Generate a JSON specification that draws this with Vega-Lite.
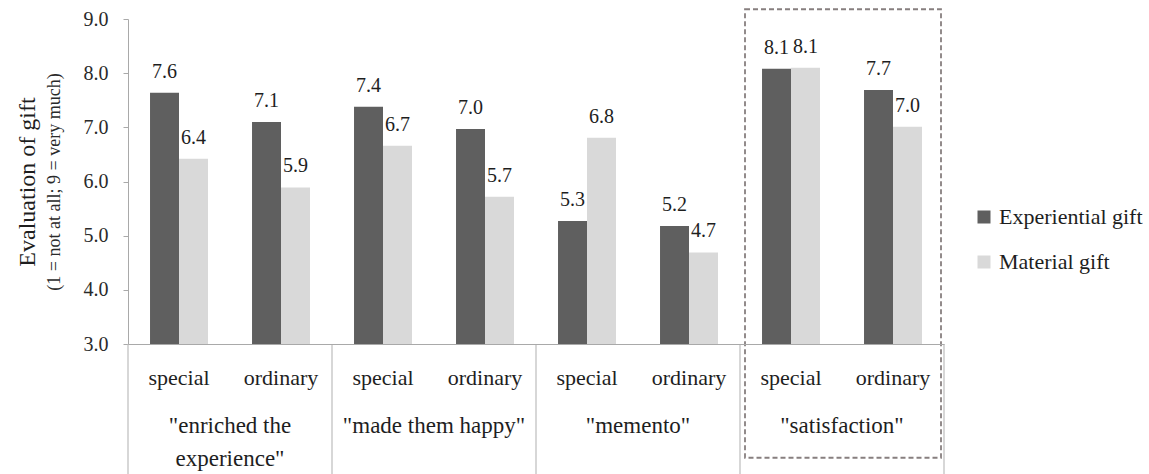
{
  "$schema": "https://vega.github.io/schema/vega-lite/v6.json",
  "width": 816,
  "height": 325,
  "autosize": {"type": "none"},
  "padding": {"left": 128, "top": 19, "right": 205, "bottom": 130},
  "background": "white",
  "config": {
    "font": "Liberation Serif",
    "view": {"stroke": null},
    "text": {"font": "Liberation Serif"},
    "axis": {"grid": false, "labelFont": "Liberation Serif", "titleFont": "Liberation Serif", "titleFontWeight": "normal"},
    "legend": {"labelFont": "Liberation Serif"}
  },
  "datasets": {
    "bars": [
      {"group": "enriched", "sub": "special", "key": "enriched|special", "gift": "Experiential gift", "value": 7.64},
      {"group": "enriched", "sub": "special", "key": "enriched|special", "gift": "Material gift", "value": 6.42},
      {"group": "enriched", "sub": "ordinary", "key": "enriched|ordinary", "gift": "Experiential gift", "value": 7.10},
      {"group": "enriched", "sub": "ordinary", "key": "enriched|ordinary", "gift": "Material gift", "value": 5.89},
      {"group": "happy", "sub": "special", "key": "happy|special", "gift": "Experiential gift", "value": 7.38},
      {"group": "happy", "sub": "special", "key": "happy|special", "gift": "Material gift", "value": 6.66},
      {"group": "happy", "sub": "ordinary", "key": "happy|ordinary", "gift": "Experiential gift", "value": 6.97},
      {"group": "happy", "sub": "ordinary", "key": "happy|ordinary", "gift": "Material gift", "value": 5.72},
      {"group": "memento", "sub": "special", "key": "memento|special", "gift": "Experiential gift", "value": 5.27},
      {"group": "memento", "sub": "special", "key": "memento|special", "gift": "Material gift", "value": 6.81},
      {"group": "memento", "sub": "ordinary", "key": "memento|ordinary", "gift": "Experiential gift", "value": 5.18},
      {"group": "memento", "sub": "ordinary", "key": "memento|ordinary", "gift": "Material gift", "value": 4.69},
      {"group": "satisfaction", "sub": "special", "key": "satisfaction|special", "gift": "Experiential gift", "value": 8.08},
      {"group": "satisfaction", "sub": "special", "key": "satisfaction|special", "gift": "Material gift", "value": 8.10},
      {"group": "satisfaction", "sub": "ordinary", "key": "satisfaction|ordinary", "gift": "Experiential gift", "value": 7.69},
      {"group": "satisfaction", "sub": "ordinary", "key": "satisfaction|ordinary", "gift": "Material gift", "value": 7.01}
    ],
    "groups": [
      {"skey": "enriched|special", "okey": "enriched|ordinary", "label": "\"enriched the\nexperience\""},
      {"skey": "happy|special", "okey": "happy|ordinary", "label": "\"made them happy\""},
      {"skey": "memento|special", "okey": "memento|ordinary", "label": "\"memento\""},
      {"skey": "satisfaction|special", "okey": "satisfaction|ordinary", "label": "\"satisfaction\""}
    ]
  },
  "layer": [
    {
      "data": {"name": "bars"},
      "mark": {"type": "bar"},
      "encoding": {
        "x": {
          "field": "key", "type": "nominal",
          "scale": {"domain": ["enriched|special", "enriched|ordinary", "happy|special", "happy|ordinary", "memento|special", "memento|ordinary", "satisfaction|special", "satisfaction|ordinary"], "paddingInner": 0, "paddingOuter": 0},
          "axis": {"title": null, "labelExpr": "split(datum.value, '|')[1]", "labelAngle": 0, "labelFontSize": 22, "labelFont": "Liberation Serif", "labelColor": "#1e1e1e", "labelBaseline": "alphabetic", "labelPadding": 40, "ticks": false, "domainColor": "#a9a9a9", "domainWidth": 1, "zindex": 1}
        },
        "xOffset": {"field": "gift", "type": "nominal", "sort": ["Experiential gift", "Material gift"], "scale": {"paddingOuter": 0.76, "paddingInner": 0}},
        "y": {
          "field": "value", "type": "quantitative",
          "scale": {"domain": [3, 9], "nice": false, "zero": false},
          "axis": {"orient": "left", "values": [3, 4, 5, 6, 7, 8, 9], "format": ".1f", "labelFontSize": 20, "labelFont": "Liberation Serif", "labelColor": "#2a2a2a", "labelPadding": 15, "tickSize": 5, "tickColor": "#a9a9a9", "domainColor": "#a9a9a9", "title": "(1 = not at all; 9 = very much)", "titleFontSize": 18, "titleColor": "#2a2a2a", "titlePadding": 20}
        },
        "y2": {"datum": 3},
        "color": {
          "field": "gift", "type": "nominal",
          "scale": {"domain": ["Experiential gift", "Material gift"], "range": ["#5f5f5f", "#d9d9d9"]},
          "legend": {"title": null, "orient": "none", "legendX": 845, "legendY": 187, "symbolType": "square", "symbolSize": 169, "symbolStrokeWidth": 0, "labelFontSize": 22, "labelFont": "Liberation Serif", "labelColor": "#1e1e1e", "labelOffset": 4, "rowPadding": 23, "padding": 0}
        }
      }
    },
    {
      "data": {"name": "bars"},
      "mark": {"type": "text", "font": "Liberation Serif", "baseline": "alphabetic", "align": "center", "dy": -15, "fontSize": 20, "color": "#1e1e1e"},
      "encoding": {
        "x": {"field": "key", "type": "nominal"},
        "xOffset": {"field": "gift", "type": "nominal", "sort": ["Experiential gift", "Material gift"]},
        "y": {"field": "value", "type": "quantitative", "scale": {"domain": [3, 9], "nice": false, "zero": false}, "axis": null},
        "text": {"field": "value", "type": "quantitative", "format": ".1f"}
      }
    },
    {
      "data": {"name": "groups"},
      "mark": {"type": "text", "font": "Liberation Serif", "baseline": "alphabetic", "align": "center", "fontSize": 23, "lineBreak": "\n", "lineHeight": 33, "color": "#1e1e1e"},
      "encoding": {
        "x": {"field": "okey", "type": "nominal", "bandPosition": 0},
        "y": {"datum": 1.36, "type": "quantitative", "scale": {"domain": [3, 9], "nice": false, "zero": false}, "axis": null},
        "text": {"field": "label", "type": "nominal"}
      }
    },
    {
      "data": {"name": "groups"},
      "mark": {"type": "rule", "color": "#bdbdbd", "strokeWidth": 1.2},
      "encoding": {
        "x": {"field": "skey", "type": "nominal", "bandPosition": 0},
        "y": {"datum": 3, "type": "quantitative", "scale": {"domain": [3, 9], "nice": false, "zero": false}, "axis": null},
        "y2": {"datum": 0.55}
      }
    },
    {
      "data": {"values": [{}]},
      "mark": {"type": "rule", "color": "#bdbdbd", "strokeWidth": 1.2},
      "encoding": {
        "x": {"datum": "satisfaction|ordinary", "type": "nominal", "bandPosition": 1},
        "y": {"datum": 3, "type": "quantitative", "scale": {"domain": [3, 9], "nice": false, "zero": false}, "axis": null},
        "y2": {"datum": 0.55}
      }
    },
    {
      "data": {"values": [{}]},
      "mark": {"type": "rect", "fill": "transparent", "stroke": "#877f7f", "strokeWidth": 1.8, "strokeDash": [5, 3], "xOffset": 5, "x2Offset": -3},
      "encoding": {
        "x": {"datum": "satisfaction|special", "type": "nominal", "bandPosition": 0},
        "x2": {"datum": "satisfaction|ordinary", "bandPosition": 1},
        "y": {"datum": 9.18, "type": "quantitative", "scale": {"domain": [3, 9], "nice": false, "zero": false},
              "axis": {"orient": "left", "title": "Evaluation of gift", "titleFontSize": 24, "titleFont": "Liberation Serif", "titleColor": "#1e1e1e", "labels": false, "ticks": false, "domain": false, "grid": false, "titlePadding": 89}},
        "y2": {"datum": 0.9}
      }
    }
  ],
  "resolve": {"scale": {"y": "independent"}}
}
